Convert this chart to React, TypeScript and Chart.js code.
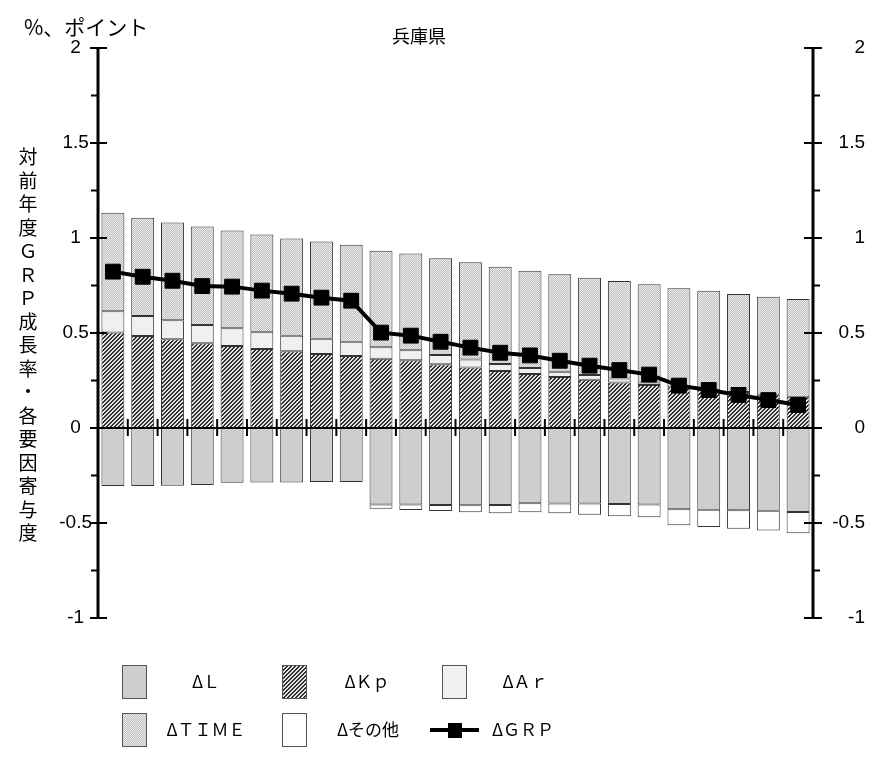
import React, { useEffect, useRef } from 'react';
import { Chart, registerables } from 'chart.js';
Chart.register(...registerables);

const categories = ['1','2','3','4','5','6','7','8','9','10','11','12','13','14','15','16','17','18','19','20','21','22','23','24'];
const dL = [-0.305, -0.305, -0.304, -0.300, -0.288, -0.287, -0.287, -0.284, -0.284, -0.402, -0.402, -0.405, -0.407, -0.405, -0.396, -0.398, -0.398, -0.400, -0.402, -0.428, -0.430, -0.433, -0.435, -0.442];
const dKp = [0.502, 0.484, 0.467, 0.446, 0.432, 0.416, 0.404, 0.389, 0.379, 0.365, 0.356, 0.335, 0.318, 0.300, 0.284, 0.268, 0.254, 0.240, 0.226, 0.215, 0.200, 0.190, 0.175, 0.165];
const dAr = [0.112, 0.105, 0.100, 0.096, 0.093, 0.088, 0.082, 0.081, 0.075, 0.060, 0.053, 0.049, 0.042, 0.037, 0.032, 0.028, 0.025, 0.020, 0.013, 0, 0, 0, 0, 0];
const dTIME = [0.519, 0.518, 0.515, 0.518, 0.514, 0.515, 0.512, 0.511, 0.511, 0.508, 0.510, 0.509, 0.512, 0.512, 0.512, 0.513, 0.512, 0.514, 0.517, 0.520, 0.523, 0.515, 0.516, 0.514];
const dOther = [0, 0, 0, 0, 0, 0, 0, 0, 0, -0.023, -0.030, -0.032, -0.037, -0.044, -0.048, -0.051, -0.058, -0.065, -0.068, -0.084, -0.091, -0.097, -0.105, -0.112];
const dGRP = [0.823, 0.796, 0.775, 0.747, 0.744, 0.723, 0.707, 0.686, 0.670, 0.502, 0.486, 0.454, 0.423, 0.396, 0.382, 0.354, 0.328, 0.305, 0.281, 0.223, 0.200, 0.174, 0.147, 0.121];

const seriesNames = ['ΔＬ', 'ΔＫｐ', 'ΔＡｒ', 'ΔＴＩＭＥ', 'Δその他', 'ΔＧＲＰ'];
const chartTitle = '兵庫県';
const unitLabel = '%、ポイント';
const yAxisTitle = '対前年度ＧＲＰ成長率・各要因寄与度';
const yMin = -1;
const yMax = 2;
const yMajorTicks = [-1, -0.5, 0, 0.5, 1, 1.5, 2];
const yMinorTicks = [-0.75, -0.25, 0.25, 0.75, 1.25, 1.75];

const CJK = '"Noto Sans CJK JP", sans-serif';

function makePattern(ctx: CanvasRenderingContext2D, size: number, fn: (x: number, y: number) => string) {
  const c = document.createElement('canvas');
  c.width = size; c.height = size;
  const g = c.getContext('2d')!;
  for (let y = 0; y < size; y++) for (let x = 0; x < size; x++) {
    g.fillStyle = fn(x, y);
    g.fillRect(x, y, 1, 1);
  }
  return ctx.createPattern(c, 'repeat')!;
}

export default function App() {
  const ref = useRef<HTMLCanvasElement>(null);
  useEffect(() => {
    const canvas = ref.current!;
    const ctx0 = canvas.getContext('2d')!;
    const pL = makePattern(ctx0, 2, (x, y) => ((x + y) % 2 ? '#c9c9c9' : '#d3d3d3'));
    const pKp = makePattern(ctx0, 4, (x, y) => ((x + y) % 4 < 2 ? '#2e2e2e' : '#e6e6e6'));
    const pAr = makePattern(ctx0, 2, (x, y) => ((x + y) % 2 ? '#ececec' : '#f4f4f4'));
    const pTIME = makePattern(ctx0, 2, (x, y) => ((x + y) % 2 ? '#bdbdbd' : '#eeeeee'));
    const fills: any[] = [pL, pKp, pAr, pTIME, '#ffffff'];

    const decor = {
      id: 'decor',
      afterDatasetsDraw(chart: any) {
        const { ctx, chartArea: a, scales } = chart;
        const ys = scales.y, xs = scales.x;
        ctx.save();
        ctx.strokeStyle = '#000';
        const ln = (x1: number, y1: number, x2: number, y2: number, w: number) => {
          ctx.lineWidth = w;
          ctx.beginPath(); ctx.moveTo(x1, y1); ctx.lineTo(x2, y2); ctx.stroke();
        };
        const yTop = ys.getPixelForValue(yMax), yBot = ys.getPixelForValue(yMin);
        const y0 = ys.getPixelForValue(0);
        ln(a.left, y0, a.right, y0, 2);
        for (let i = 1; i < categories.length; i++) {
          const xp = (xs.getPixelForValue(i - 1) + xs.getPixelForValue(i)) / 2;
          ln(xp, y0 - 9, xp, y0 + 8, 2);
        }
        ln(a.left, yTop - 1, a.left, yBot + 1, 3);
        ln(a.right, yTop - 1, a.right, yBot + 1, 3);
        for (const v of yMajorTicks) {
          const yp = ys.getPixelForValue(v);
          ln(a.left - 8, yp, a.left + 9, yp, 2);
          ln(a.right - 9, yp, a.right + 9, yp, 2);
        }
        for (const v of yMinorTicks) {
          const yp = ys.getPixelForValue(v);
          ln(a.left - 7, yp, a.left, yp, 2);
          ln(a.right, yp, a.right + 7, yp, 2);
        }
        ctx.restore();
      },
      afterDraw(chart: any) {
        const { ctx } = chart;
        ctx.save();
        ctx.fillStyle = '#000';
        ctx.textBaseline = 'middle';
        ctx.font = `18px ${CJK}`;
        ctx.textAlign = 'center';
        ctx.fillText(chartTitle, 419, 36);
        ctx.font = `21px ${CJK}`;
        ctx.textAlign = 'left';
        ctx.fillText(unitLabel, 24, 27);
        ctx.font = `19px ${CJK}`;
        ctx.textAlign = 'center';
        const chars = Array.from(yAxisTitle);
        chars.forEach((ch, i) => ctx.fillText(ch, 28, 157 + i * 23.5));
        // legend
        const boxes = [
          { x: 122, y: 665, tx: 206, ty: 682 },
          { x: 282, y: 665, tx: 367, ty: 682 },
          { x: 442, y: 665, tx: 525, ty: 682 },
          { x: 122, y: 713, tx: 206, ty: 730 },
          { x: 282, y: 713, tx: 368, ty: 730 },
        ];
        ctx.font = `17px ${CJK}`;
        boxes.forEach((b, i) => {
          ctx.fillStyle = fills[i];
          ctx.fillRect(b.x, b.y, 24, 33);
          ctx.strokeStyle = '#555';
          ctx.lineWidth = 1;
          ctx.strokeRect(b.x + 0.5, b.y + 0.5, 24, 33);
          ctx.fillStyle = '#000';
          ctx.fillText(seriesNames[i], b.tx, b.ty);
        });
        ctx.strokeStyle = '#000';
        ctx.lineWidth = 4;
        ctx.beginPath(); ctx.moveTo(430, 730); ctx.lineTo(479, 730); ctx.stroke();
        ctx.fillStyle = '#000';
        ctx.fillRect(448, 723, 14, 15);
        ctx.fillText(seriesNames[5], 523, 730);
        ctx.restore();
      },
    };

    const barDs = [dL, dKp, dAr, dTIME, dOther].map((d, i) => ({
      type: 'bar' as const,
      label: seriesNames[i],
      data: d,
      backgroundColor: fills[i],
      borderColor: '#333',
      borderWidth: 1,
      borderSkipped: false,
      barPercentage: 0.77,
      categoryPercentage: 1,
      order: 1,
      yAxisID: 'y',
    }));

    const tickFont = { family: '"Liberation Sans", Arial, sans-serif', size: 19 };
    const chart = new Chart(canvas, {
      data: {
        labels: categories,
        datasets: [
          ...barDs,
          {
            type: 'line' as const,
            label: seriesNames[5],
            data: dGRP,
            borderColor: '#000',
            borderWidth: 4,
            pointStyle: 'rect',
            pointRadius: 10.5,
            pointBackgroundColor: '#000',
            pointBorderColor: '#000',
            pointBorderWidth: 1,
            order: 0,
            yAxisID: 'y',
          } as any,
        ],
      },
      options: {
        animation: false,
        responsive: true,
        maintainAspectRatio: false,
        layout: { padding: { top: 48, bottom: 146, left: 0, right: 8 }, autoPadding: false },
        plugins: { legend: { display: false }, tooltip: { enabled: false }, title: { display: false } },
        scales: {
          x: { type: 'category', stacked: true, display: false, offset: true },
          y: {
            type: 'linear', position: 'left', stacked: true, min: yMin, max: yMax,
            grid: { display: false, drawTicks: false }, border: { display: false },
            ticks: { stepSize: 0.5, padding: 6, crossAlign: 'center', color: '#000', font: tickFont, callback: (v: any) => String(v) },
            afterFit: (s: any) => { s.width = 98; },
          },
          y1: {
            type: 'linear', position: 'right', min: yMin, max: yMax,
            grid: { display: false, drawTicks: false }, border: { display: false },
            ticks: { stepSize: 0.5, padding: 12, crossAlign: 'far', color: '#000', font: tickFont, callback: (v: any) => String(v) },
            afterFit: (s: any) => { s.width = 52; },
          },
        },
      } as any,
      plugins: [decor],
    });
    return () => chart.destroy();
  }, []);
  return (
    <div style={{ position: 'absolute', left: 0, top: 0, width: 873, height: 764, background: '#fff' }}>
      <canvas ref={ref} />
    </div>
  );
}
